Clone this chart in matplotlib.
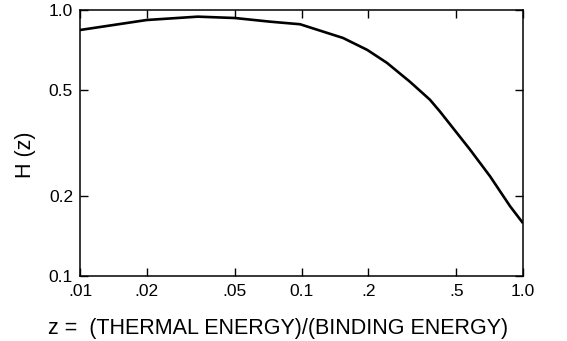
import matplotlib
matplotlib.use("Agg")
import matplotlib.pyplot as plt
from matplotlib.ticker import FixedLocator, FixedFormatter, NullLocator

plt.rcParams['font.family'] = ['Liberation Sans', 'DejaVu Sans']

z_values = [0.01, 0.02, 0.034, 0.05, 0.072, 0.0985, 0.154, 0.198, 0.243, 0.309,
            0.380, 0.422, 0.576, 0.710, 0.874, 1.0]
h_values = [0.841, 0.917, 0.944, 0.933, 0.904, 0.884, 0.785, 0.708, 0.633, 0.537,
            0.460, 0.415, 0.299, 0.237, 0.183, 0.158]

x_ticks = [0.01, 0.02, 0.05, 0.1, 0.2, 0.5, 1.0]
x_tick_labels = ['.01', '.02', '.05', '0.1', '.2', '.5', '1.0']
y_ticks = [0.1, 0.2, 0.5, 1.0]
y_tick_labels = ['0.1', '0.2', '0.5', '1.0']

W, H = 567, 341
fig = plt.figure(figsize=(W / 100, H / 100), dpi=100)
ax = fig.add_axes([80 / W, 1 - 276 / H, 443 / W, 266 / H])

ax.plot(z_values, h_values, color='black', lw=1.9, solid_capstyle='butt')
ax.set_xscale('log')
ax.set_yscale('log')
ax.set_xlim(0.01, 1.0)
ax.set_ylim(0.1, 1.0)

ax.xaxis.set_major_locator(FixedLocator(x_ticks))
ax.xaxis.set_major_formatter(FixedFormatter(x_tick_labels))
ax.yaxis.set_major_locator(FixedLocator(y_ticks))
ax.yaxis.set_major_formatter(FixedFormatter(y_tick_labels))
ax.xaxis.set_minor_locator(NullLocator())
ax.yaxis.set_minor_locator(NullLocator())

ax.tick_params(which='major', direction='in', length=6, width=1.0,
               top=True, right=True, labelsize=12.5, color='black')
ax.tick_params(axis='x', pad=6)
ax.tick_params(axis='y', pad=5)
for s in ax.spines.values():
    s.set_linewidth(1.1)

fig.text(278 / W, 1 - 334 / H, 'z =  (THERMAL ENERGY)/(BINDING ENERGY)',
         fontsize=15.5, ha='center', va='baseline')
fig.text(25 / W, 1 - 155 / H, 'H (z)', fontsize=15.5, rotation=90,
         ha='center', va='center')

fig.savefig('out.png', dpi=100)
